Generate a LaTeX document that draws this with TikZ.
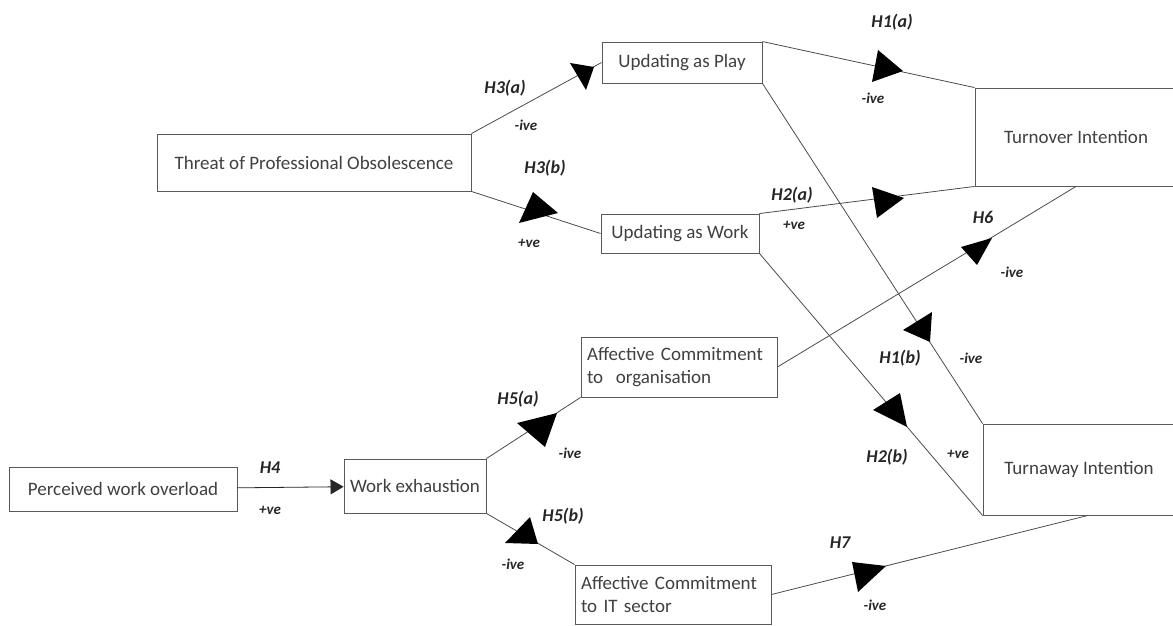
\documentclass[tikz,border=0pt]{standalone}
\usepackage{fontspec}
\setmainfont{Carlito}
\usetikzlibrary{arrows.meta}
\begin{document}
\begin{tikzpicture}[x=1pt,y=-1pt,
  box/.style={draw=black!65, line width=0.9pt, text=black!75, inner sep=0pt,
    font=\fontsize{19}{23.5}\selectfont, rectangle},
  twoline/.style={box, text width=184pt, align=left, inner xsep=6pt},
  hyp/.style={font=\fontsize{18}{20}\selectfont\bfseries\itshape, text=black!85},
  sgn/.style={font=\fontsize{15}{17}\selectfont\bfseries\itshape, text=black!85},
  link/.style={draw=black!70, line width=0.8pt},
  tri/.style={fill=black}]
\clip (0,0) rectangle (1173,626);
\fill[white] (0,0) rectangle (1173,626);
% boxes
\node[box, minimum width=314pt, minimum height=57pt] (threat) at (314,162.5) {Threat of Professional Obsolescence};
\node[box, minimum width=160pt, minimum height=41pt] (play) at (682,62.5) {Updating as Play};
\node[box, minimum width=158pt, minimum height=39pt] (work) at (680,233.5) {Updating as Work};
\node[box, minimum width=202pt, minimum height=98pt] (turnover) at (1076,137) {Turnover Intention};
\node[box, minimum width=192pt, minimum height=91pt] (turnaway) at (1079,469.5) {Turnaway Intention};
\node[twoline, minimum height=60pt] (org) at (679,367) {Affective Commitment\\to~ organisation};
\node[twoline, minimum height=59pt] (it) at (673,594.5) {Affective Commitment\\to IT sector};
\node[box, minimum width=228pt, minimum height=44pt] (perc) at (123,489) {Perceived work overload};
\node[box, minimum width=142pt, minimum height=54pt] (exh) at (415,486) {Work exhaustion};
% connectors
\draw[link] (threat.north east) -- (play.west);
\draw[link] (threat.south east) -- (work.west);
\draw[link] (play.north east) -- (turnover.north west);
\draw[link] (play.south east) -- (turnaway.north west);
\draw[link] (work.north east) -- (turnover.south west);
\draw[link] (work.south east) -- (turnaway.south west);
\draw[link] (org.east) -- (turnover.south);
\draw[link] (it.east) -- ([xshift=9pt]turnaway.south);
\draw[link, draw=black!85, -{Triangle[length=13pt,width=15pt]}] (perc) -- (exh);
\draw[link] (exh.north east) -- (org.south west);
\draw[link] (exh.south east) -- (it.north west);
% arrowheads
\fill[tri] (570,63) -- (594,67) -- (586,90) -- cycle;   % H3(a)
\fill[tri] (533,192) -- (519,223) -- (558,213) -- cycle; % H3(b)
\fill[tri] (878,50) -- (903,71) -- (872,82) -- cycle;   % H1(a)
\fill[tri] (872,187) -- (904,198) -- (877,218) -- cycle; % H2(a)
\fill[tri] (961,247) -- (992,238) -- (977,265) -- cycle; % H6
\fill[tri] (932,312) -- (903,330) -- (930,342) -- cycle; % H1(b)
\fill[tri] (900,393) -- (873,410) -- (907,427) -- cycle; % H2(b)
\fill[tri] (517,423) -- (557,413) -- (545,447) -- cycle; % H5(a)
\fill[tri] (530,517) -- (505,543) -- (538,544) -- cycle; % H5(b)
\fill[tri] (852,562) -- (886,566) -- (858,592) -- cycle; % H7
% labels
\node[hyp] (lh1a) at (892,22) {H1(a)};
\node[sgn] (sh1a) at (873,98) {-ive};
\node[hyp] (lh3a) at (505,88) {H3(a)};
\node[sgn] (sh3a) at (526,125) {-ive};
\node[hyp] (lh3b) at (545,168) {H3(b)};
\node[sgn] (sh3b) at (529,243) {+ve};
\node[hyp] (lh2a) at (792,195) {H2(a)};
\node[sgn] (sh2a) at (794,225) {+ve};
\node[hyp] (lh6) at (983,217) {H6};
\node[sgn] (sh6) at (1012,272) {-ive};
\node[hyp] (lh1b) at (900,358) {H1(b)};
\node[sgn] (sh1b) at (971,358) {-ive};
\node[hyp] (lh2b) at (887,457) {H2(b)};
\node[sgn] (sh2b) at (958,454) {+ve};
\node[hyp] (lh7) at (840,543) {H7};
\node[sgn] (sh7) at (875,605) {-ive};
\node[hyp] (lh5a) at (518,399) {H5(a)};
\node[sgn] (sh5a) at (570,453) {-ive};
\node[hyp] (lh5b) at (563,516) {H5(b)};
\node[sgn] (sh5b) at (513,564) {-ive};
\node[hyp] (lh4) at (270,468) {H4};
\node[sgn] (sh4) at (270,510) {+ve};
\end{tikzpicture}
\end{document}
